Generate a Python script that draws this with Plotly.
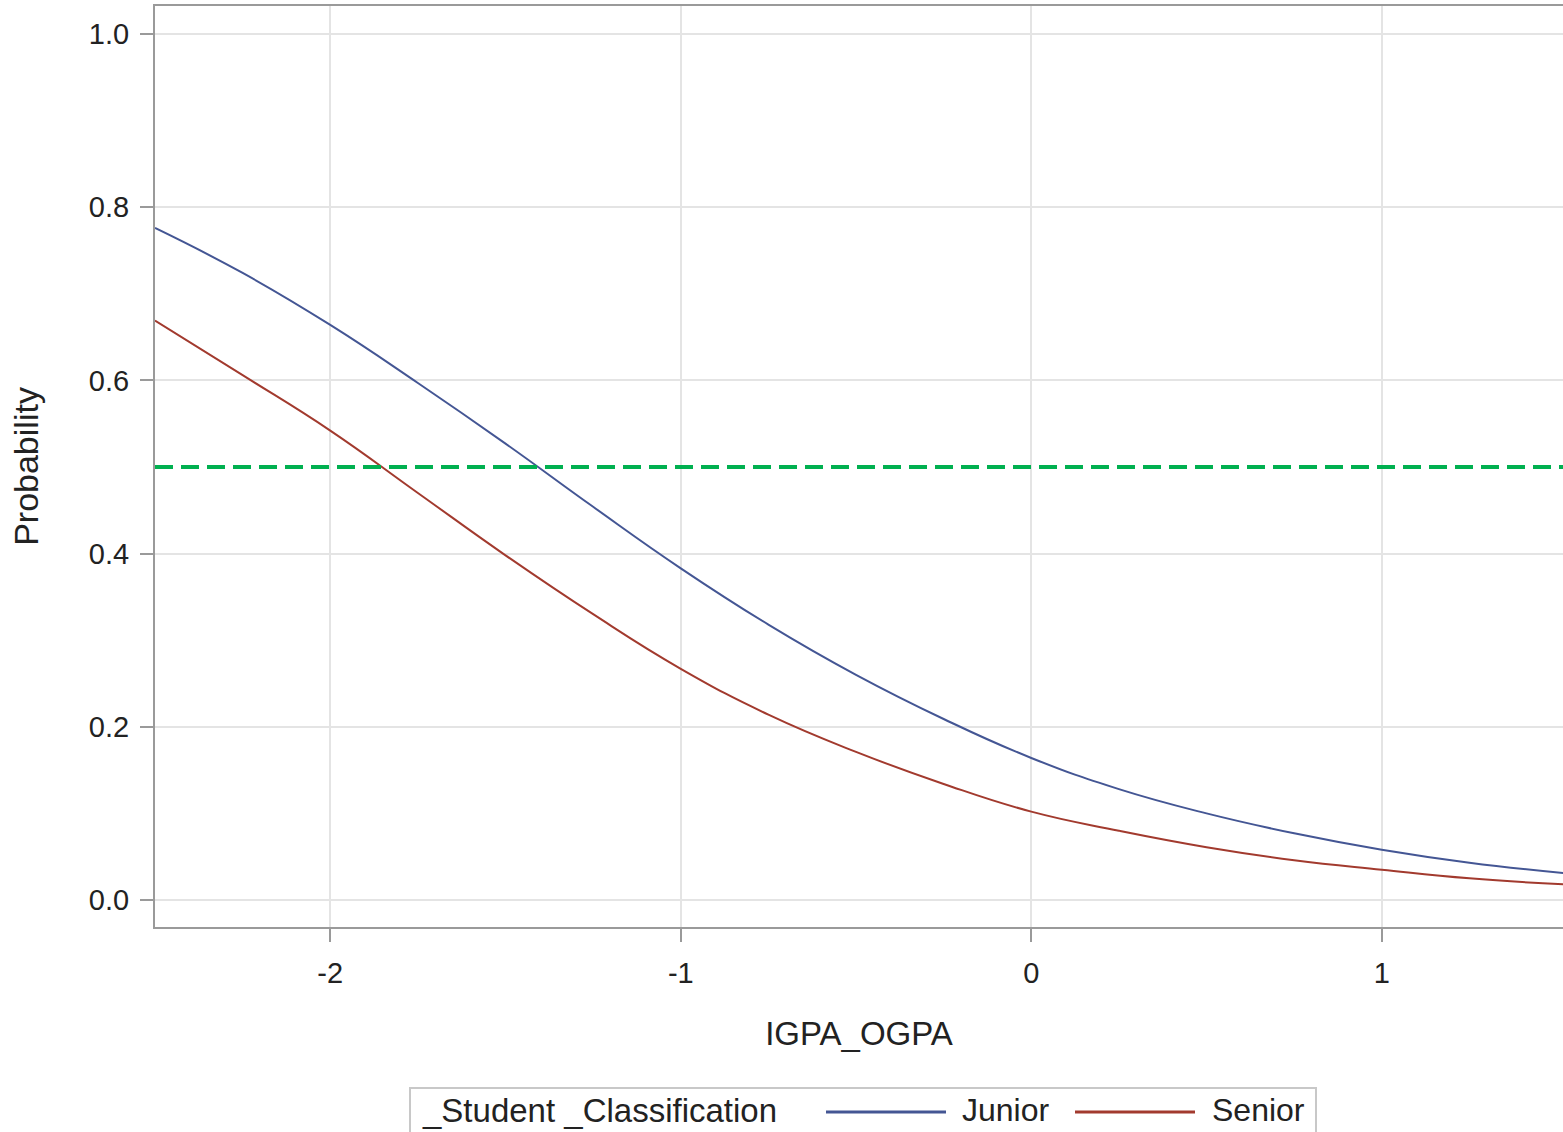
import plotly.graph_objects as go

# ---------------- data ----------------
igpa_ogpa = [-2.5, -2.25, -2.0, -1.75, -1.5, -1.25, -1.0, -0.75, -0.5, -0.25,
             0.0, 0.25, 0.5, 0.75, 1.0, 1.25, 1.52]
junior = [0.776, 0.724, 0.664, 0.597, 0.527, 0.454, 0.383, 0.318, 0.260, 0.209,
          0.164, 0.128, 0.100, 0.077, 0.058, 0.043, 0.031]
senior = [0.669, 0.606, 0.542, 0.470, 0.398, 0.330, 0.267, 0.214, 0.171, 0.134,
          0.102, 0.080, 0.061, 0.046, 0.035, 0.025, 0.018]
series_names = ["Junior", "Senior"]
legend_title = "_Student _Classification"
threshold = 0.5
x_ticks = [-2, -1, 0, 1]
y_ticks = [0.0, 0.2, 0.4, 0.6, 0.8, 1.0]
y_tick_labels = ["0.0", "0.2", "0.4", "0.6", "0.8", "1.0"]

# ---------------- style ----------------
W, H = 1563, 1132
ML, MR, MT, MB = 155, 0, 6, 205
FONT = "Liberation Sans, Arial, sans-serif"
BLUE = "#445694"
RED = "#A23A2E"
GREEN = "#00B050"
AXIS = "#9a9a9a"
GRID = "#e4e4e4"
TXT = "#222222"

XR = [-2.5, 1.517]
YR = [-0.0312, 1.0323]


def px_x(px):
    return (px - ML) / (W - ML - MR)


def px_y(py):
    return (H - MB - py) / (H - MT - MB)


fig = go.Figure()
fig.add_trace(go.Scatter(x=igpa_ogpa, y=junior, mode="lines", name=series_names[0],
                         line=dict(color=BLUE, width=2, shape="spline", smoothing=1.3),
                         showlegend=False))
fig.add_trace(go.Scatter(x=igpa_ogpa, y=senior, mode="lines", name=series_names[1],
                         line=dict(color=RED, width=2, shape="spline", smoothing=1.3),
                         showlegend=False))
fig.add_trace(go.Scatter(x=[XR[0], XR[1]], y=[threshold, threshold], mode="lines",
                         line=dict(color=GREEN, width=4, dash="18px,8px"),
                         showlegend=False, hoverinfo="skip"))

fig.update_layout(
    width=W, height=H,
    margin=dict(l=ML, r=MR, t=MT, b=MB, pad=0),
    paper_bgcolor="white", plot_bgcolor="white",
    font=dict(family=FONT, size=29, color=TXT),
    showlegend=False,
)
fig.update_xaxes(
    range=XR, tickvals=x_ticks, ticktext=[str(v) for v in x_ticks],
    showgrid=True, gridcolor=GRID, gridwidth=2, zeroline=False,
    showline=True, linecolor=AXIS, linewidth=2, mirror=True,
    ticks="outside", ticklen=13, tickcolor=AXIS, tickwidth=2,
    ticklabelstandoff=6,
    tickfont=dict(family=FONT, size=29, color=TXT),
    title=dict(text="IGPA_OGPA", font=dict(family=FONT, size=33, color=TXT), standoff=34),
)
fig.update_yaxes(
    range=YR, tickvals=y_ticks, ticktext=y_tick_labels,
    showgrid=True, gridcolor=GRID, gridwidth=2, zeroline=False,
    showline=True, linecolor=AXIS, linewidth=2, mirror=False,
    ticks="outside", ticklen=13, tickcolor=AXIS, tickwidth=2,
    ticklabelstandoff=5,
    tickfont=dict(family=FONT, size=29, color=TXT),
    title=dict(text="Probability", font=dict(family=FONT, size=34, color=TXT), standoff=40),
)

# ---------------- legend (drawn as layout decoration) ----------------
shapes = [
    dict(type="rect", xref="paper", yref="paper",
         x0=px_x(410), x1=px_x(1316), y0=px_y(1088), y1=px_y(1150),
         line=dict(color="#c8c8c8", width=2), fillcolor="rgba(0,0,0,0)", layer="above"),
    dict(type="line", xref="paper", yref="paper",
         x0=px_x(826), x1=px_x(946), y0=px_y(1112), y1=px_y(1112),
         line=dict(color=BLUE, width=3)),
    dict(type="line", xref="paper", yref="paper",
         x0=px_x(1075), x1=px_x(1195), y0=px_y(1112), y1=px_y(1112),
         line=dict(color=RED, width=3)),
]
annotations = [
    dict(text=legend_title, xref="paper", yref="paper", x=px_x(420), y=px_y(1110),
         xanchor="left", yanchor="middle", showarrow=False,
         font=dict(family=FONT, size=33, color=TXT)),
    dict(text=series_names[0], xref="paper", yref="paper", x=px_x(960), y=px_y(1110),
         xanchor="left", yanchor="middle", showarrow=False,
         font=dict(family=FONT, size=32, color=TXT)),
    dict(text=series_names[1], xref="paper", yref="paper", x=px_x(1210), y=px_y(1110),
         xanchor="left", yanchor="middle", showarrow=False,
         font=dict(family=FONT, size=32, color=TXT)),
]
fig.update_layout(shapes=shapes, annotations=annotations)

fig.write_html("out.html")
